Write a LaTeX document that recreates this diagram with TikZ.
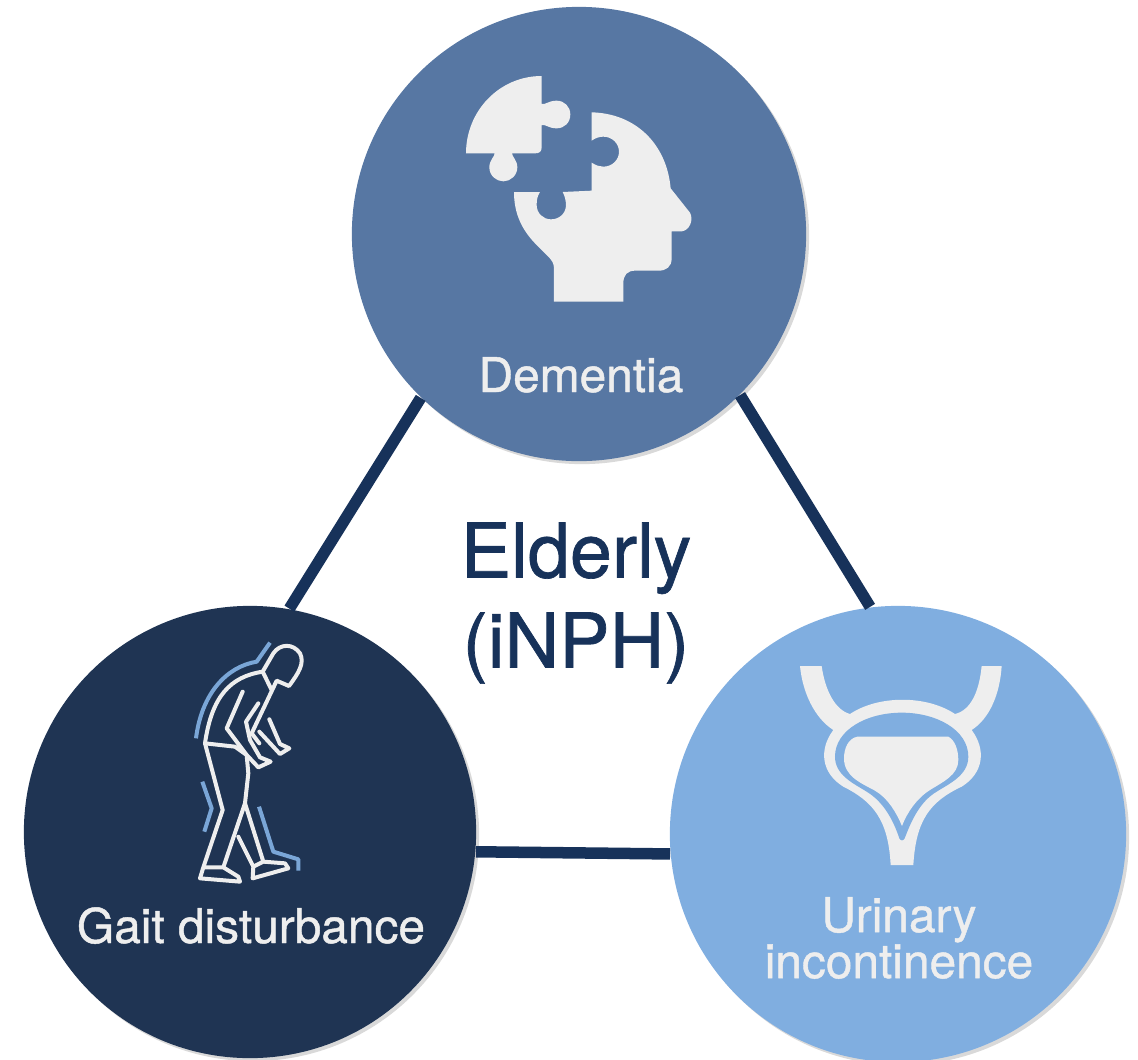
\documentclass[tikz,border=0pt]{standalone}
\usepackage{fontspec}
\setmainfont{TeX Gyre Heros}[RawFeature={embolden=0.9}]
\usetikzlibrary{shadows}
\definecolor{dementiablue}{HTML}{5777A3}
\definecolor{gaitblue}{HTML}{1F3453}
\definecolor{urinaryblue}{HTML}{80AEE0}
\definecolor{linkblue}{HTML}{17325A}
\definecolor{iconwhite}{HTML}{EEEEEE}
\begin{document}
\begin{tikzpicture}[x=0.01cm,y=-0.01cm,
    symptom/.style={circle,inner sep=0pt,minimum size=#1,drop shadow={shadow xshift=0.03cm,shadow yshift=-0.03cm,opacity=0.3}},
    link/.style={draw=linkblue,line width=0.115cm},
    caption/.style={text=iconwhite,align=center,font=\fontsize{13.6}{13.1}\selectfont},
    figure/.style={draw=iconwhite,line width=0.04cm,line join=round,line cap=round},
    motion/.style={draw=urinaryblue!85!dementiablue,line width=0.04cm,line join=round}]
  \useasboundingbox (0,0) rectangle (1138,1060);
  \node[symptom=4.54cm,fill=dementiablue] (dementia) at (579,234) {};
  \node[symptom=4.52cm,fill=gaitblue] (gait) at (250,832) {};
  \node[symptom=4.56cm,fill=urinaryblue] (urinary) at (898,834) {};
  \draw[link] (dementia.226) -- (gait.80);
  \draw[link] (dementia.-45) -- (urinary.97);
  \draw[link] (gait.-5.8) -- (urinary.185.8);
  % puzzle piece and head
  \begin{scope}[shift={(440,60)},scale=1/3]
    \fill[iconwhite] (305,48) -- (305,132) .. controls (318,134) and (326,122) .. (350,122)
      .. controls (373,122) and (391,140) .. (391,163) .. controls (391,188) and (373,205) .. (350,205)
      .. controls (326,205) and (318,193) .. (305,195) -- (305,262) .. controls (305,275) and (298,280) .. (285,280)
      -- (216,280) .. controls (216,290) and (232,300) .. (232,322) .. controls (232,346) and (212,364) .. (190,364)
      .. controls (168,364) and (148,346) .. (148,322) .. controls (148,300) and (164,290) .. (164,280)
      -- (78,280) .. controls (78,153) and (178,48) .. (305,48) -- cycle;
    \fill[iconwhite] (455,157) .. controls (585,160) and (680,250) .. (692,385)
      -- (750,458) .. controls (762,480) and (748,512) .. (725,514) -- (695,514) -- (695,595)
      .. controls (695,620) and (680,632) .. (655,632) -- (585,632) .. controls (562,632) and (550,645) .. (550,670)
      -- (550,725) -- (342,725) -- (342,625) .. controls (342,610) and (335,600) .. (325,590)
      -- (290,555) .. controls (245,510) and (222,460) .. (222,396) -- (300,396)
      .. controls (292,408) and (290,420) .. (290,435) .. controls (290,460) and (310,478) .. (333,478)
      .. controls (358,478) and (378,460) .. (378,435) .. controls (378,420) and (373,405) .. (368,396)
      -- (455,392) -- (455,308) .. controls (468,316) and (478,320) .. (490,320)
      .. controls (516,320) and (537,300) .. (537,275) .. controls (537,250) and (516,230) .. (490,230)
      .. controls (478,230) and (466,234) .. (455,242) -- cycle;
  \end{scope}
  % walking figure
  \begin{scope}[shift={(170,630)},scale=1/3]
    \draw[motion] (300,38) -- (260,95) .. controls (170,110) and (95,190) .. (78,325);
    \draw[motion] (97,455) -- (125,535) -- (103,605);
    \draw[motion] (267,530) -- (310,665) -- (385,688) -- (385,722);
    \draw[figure] (278,125) -- (310,70) .. controls (330,40) and (370,40) .. (390,70)
      .. controls (405,100) and (385,130) .. (357,168) -- (320,152) -- (245,310) -- (268,340);
    \draw[figure] (278,125) -- (305,180);
    \draw[figure] (278,125) .. controls (180,140) and (125,200) .. (105,340) -- (158,540) -- (100,712) -- (90,745) -- (210,755) -- (205,740) -- (160,712) -- (105,712);
    \draw[figure] (105,340) -- (195,350) -- (230,375) -- (235,430) -- (225,520) -- (160,712);
    \draw[figure] (225,520) -- (280,695) -- (250,710) -- (248,745) -- (355,715) -- (345,700) -- (280,695);
    \draw[figure] (205,620) -- (250,710);
    \draw[figure] (218,185) -- (170,295) -- (230,375) -- (265,412) -- (302,395) -- (270,382) -- (240,330) -- (228,275) -- (265,220);
    \draw[figure] (268,305) -- (330,372) -- (358,355) -- (330,342) -- (298,268);
  \end{scope}
  % bladder
  \begin{scope}[shift={(780,650)},scale=1/3]
    \fill[iconwhite] (60,48) .. controls (68,130) and (105,205) .. (160,240)
      .. controls (115,300) and (125,370) .. (190,410) .. controls (280,455) and (325,510) .. (332,645)
      -- (400,645) .. controls (408,510) and (450,455) .. (545,410) .. controls (610,370) and (620,300) .. (575,240)
      .. controls (630,205) and (660,130) .. (665,48) -- (605,48) .. controls (598,120) and (575,180) .. (525,192)
      .. controls (440,135) and (295,135) .. (210,192) .. controls (165,180) and (135,120) .. (125,48) -- cycle;
    \fill[urinaryblue] (365,188) .. controls (260,188) and (165,240) .. (165,320)
      .. controls (165,375) and (220,400) .. (260,425) .. controls (310,455) and (340,510) .. (358,565)
      .. controls (362,573) and (370,573) .. (374,565) .. controls (395,510) and (420,455) .. (470,425)
      .. controls (510,400) and (565,375) .. (565,320) .. controls (565,240) and (470,188) .. (365,188) -- cycle;
    \fill[iconwhite] (232,260) -- (505,260) .. controls (525,270) and (535,300) .. (535,330)
      .. controls (535,375) and (490,395) .. (450,420) .. controls (410,445) and (380,490) .. (366,528)
      .. controls (350,490) and (325,445) .. (285,422) .. controls (245,400) and (192,380) .. (192,325)
      .. controls (192,295) and (205,265) .. (232,260) -- cycle;
  \end{scope}
  \node[caption,anchor=base] (dementialabel) at (581,392) {Dementia};
  \node[caption,anchor=base] (gaitlabel) at (251,943) {Gait disturbance};
  \node[caption] (urinarylabel) at (899,938) {Urinary\\incontinence};
  \node[text=linkblue,align=center,font=\fontsize{21.5}{25.6}\selectfont] (elderly) at (576,603) {Elderly\\(iNPH)};
\end{tikzpicture}
\end{document}
